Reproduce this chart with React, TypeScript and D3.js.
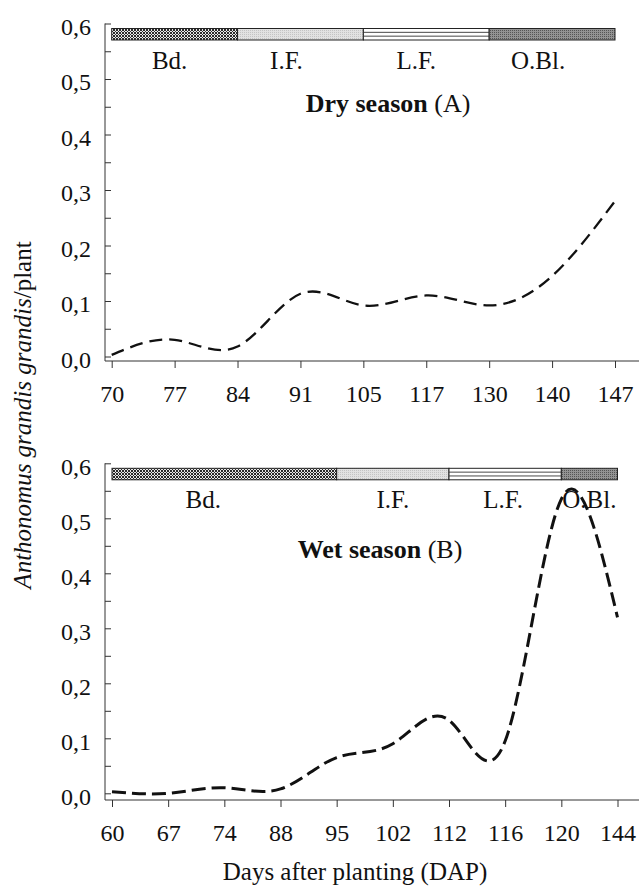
import React, { useEffect, useRef } from "react";
import * as d3 from "d3";

// dry season (A)
const dryDays = ["70", "77", "84", "91", "105", "117", "130", "140", "147"];
const dryValues = [0.003, 0.03, 0.018, 0.113, 0.092, 0.11, 0.092, 0.145, 0.28];
const dryStageBounds = ["70", "84", "105", "130", "147"];

// wet season (B)
const wetDays = ["60", "67", "74", "88", "95", "102", "112", "116", "120", "144"];
const wetValues = [0.003, 0.0, 0.01, 0.008, 0.065, 0.09, 0.133, 0.095, 0.535, 0.32];
const wetStageBounds = ["60", "95", "112", "120", "144"];

const stageNames = ["Bd.", "I.F.", "L.F.", "O.Bl."];
const stageFills = ["url(#pBd)", "url(#pIF)", "#fff", "url(#pOB)"];
const yTicks = [0, 0.05, 0.1, 0.15, 0.2, 0.25, 0.3, 0.35, 0.4, 0.45, 0.5, 0.55, 0.6];

const FONT = "'Liberation Serif', 'Times New Roman', serif";

const App = () => {
    const svgRef = useRef(null);

    useEffect(() => {
        const svg = d3.select(svgRef.current);
        svg.selectAll("*").remove();

        const defs = svg.append("defs");
        const pBd = defs.append("pattern").attr("id", "pBd").attr("patternUnits", "userSpaceOnUse")
            .attr("width", 3).attr("height", 3);
        pBd.append("rect").attr("width", 3).attr("height", 3).attr("fill", "#e8e8e8");
        pBd.append("path").attr("d", "M0,0L3,3M3,0L0,3").attr("stroke", "#2a2a2a").attr("stroke-width", 1);
        const pIF = defs.append("pattern").attr("id", "pIF").attr("patternUnits", "userSpaceOnUse")
            .attr("width", 2).attr("height", 2);
        pIF.append("rect").attr("width", 2).attr("height", 2).attr("fill", "#e2e2e2");
        pIF.append("rect").attr("width", 1).attr("height", 1).attr("fill", "#c4c4c4");
        const pOB = defs.append("pattern").attr("id", "pOB").attr("patternUnits", "userSpaceOnUse")
            .attr("width", 2).attr("height", 2);
        pOB.append("rect").attr("width", 2).attr("height", 2).attr("fill", "#939393");
        pOB.append("rect").attr("width", 1).attr("height", 1).attr("fill", "#555");

        const fmt = (v) => d3.format(".1f")(v).replace(".", ",");

        const drawPanel = (cfg) => {
            const { days, values, bounds, top, zero, axisY, x0, x1, axisX, title, letter, dash, sw, titleX, titleY, labelShifts } = cfg;
            const g = svg.append("g");
            const x = d3.scalePoint().domain(days).range([x0, x1]);
            const y = d3.scaleLinear().domain([0, 0.6]).range([zero, top]);

            // y axis, ticks inward
            const yAxis = d3.axisLeft(y).tickValues(yTicks).tickSize(-6).tickPadding(14)
                .tickFormat((d) => (Math.round(d * 100) % 10 === 0 ? fmt(d) : ""));
            const ya = g.append("g").attr("transform", `translate(${axisX},0)`).call(yAxis);
            ya.select(".domain").remove();
            ya.selectAll("line").attr("stroke", "#333");
            ya.selectAll("text").attr("font-family", FONT).attr("font-size", 24).attr("fill", "#111")
                .attr("dy", "0.45em");
            g.append("line").attr("x1", axisX).attr("x2", axisX).attr("y1", top).attr("y2", axisY)
                .attr("stroke", "#333");

            // x axis
            const xAxis = d3.axisBottom(x).tickSizeInner(7).tickSizeOuter(0).tickPadding(17);
            const xa = g.append("g").attr("transform", `translate(0,${axisY})`).call(xAxis);
            xa.select(".domain").remove();
            xa.selectAll("line").attr("stroke", "#333");
            xa.selectAll("text").attr("font-family", FONT).attr("font-size", 24).attr("fill", "#111");
            g.append("line").attr("x1", axisX).attr("x2", 639).attr("y1", axisY).attr("y2", axisY)
                .attr("stroke", "#333");

            // phenology bar
            const barY = top + 5;
            const barH = 11.5;
            stageNames.forEach((name, i) => {
                const bx0 = x(bounds[i]);
                const bx1 = x(bounds[i + 1]);
                g.append("rect").attr("x", bx0).attr("y", barY).attr("width", bx1 - bx0).attr("height", barH)
                    .attr("fill", stageFills[i]).attr("stroke", "#222").attr("stroke-width", 1);
                if (name === "L.F.") {
                    [1 / 3, 2 / 3].forEach((f) => {
                        g.append("line").attr("x1", bx0).attr("x2", bx1)
                            .attr("y1", barY + barH * f).attr("y2", barY + barH * f)
                            .attr("stroke", "#333").attr("stroke-width", 0.9);
                    });
                }
                g.append("text").attr("x", (bx0 + bx1) / 2 + labelShifts[i]).attr("y", top + 45)
                    .attr("text-anchor", "middle").attr("font-family", FONT).attr("font-size", 25)
                    .attr("fill", "#111").text(name);
            });

            // title
            const t = g.append("text").attr("x", titleX).attr("y", titleY).attr("text-anchor", "middle")
                .attr("font-family", FONT).attr("font-size", 26).attr("fill", "#111");
            t.append("tspan").attr("font-weight", "bold").text(title);
            t.append("tspan").text(` (${letter})`);

            // smoothed dashed curve
            const line = d3.line()
                .x((d, i) => x(days[i]))
                .y((d) => y(d))
                .curve(d3.curveNatural);
            g.append("path").attr("d", line(values)).attr("fill", "none").attr("stroke", "#111")
                .attr("stroke-width", sw).attr("stroke-dasharray", dash);
        };

        drawPanel({
            days: dryDays, values: dryValues, bounds: dryStageBounds,
            top: 23.5, zero: 356.5, axisY: 361, x0: 111.7, x1: 615, axisX: 105,
            title: "Dry season", letter: "A", dash: "13,7", sw: 2.3, titleX: 388, titleY: 112,
            labelShifts: [-5, -14, -10, -14],
        });
        drawPanel({
            days: wetDays, values: wetValues, bounds: wetStageBounds,
            top: 463.3, zero: 793.3, axisY: 800, x0: 112, x1: 617.5, axisX: 105,
            title: "Wet season", letter: "B", dash: "14,6", sw: 3, titleX: 380, titleY: 558,
            labelShifts: [-21, 0, -2, 0],
        });

        // shared axis titles
        const yl = svg.append("text").attr("transform", "translate(31,415) rotate(-90)")
            .attr("text-anchor", "middle").attr("font-family", FONT).attr("font-size", 25).attr("fill", "#111");
        yl.append("tspan").attr("font-style", "italic").text("Anthonomus grandis grandis");
        yl.append("tspan").text("/plant");

        svg.append("text").attr("x", 355).attr("y", 880).attr("text-anchor", "middle")
            .attr("font-family", FONT).attr("font-size", 25).attr("fill", "#111")
            .text("Days after planting (DAP)");
    }, []);

    return (
        <svg ref={svgRef} width={642} height={896}
            style={{ position: "absolute", left: 0, top: 0, background: "#fff" }}></svg>
    );
};

export default App;
